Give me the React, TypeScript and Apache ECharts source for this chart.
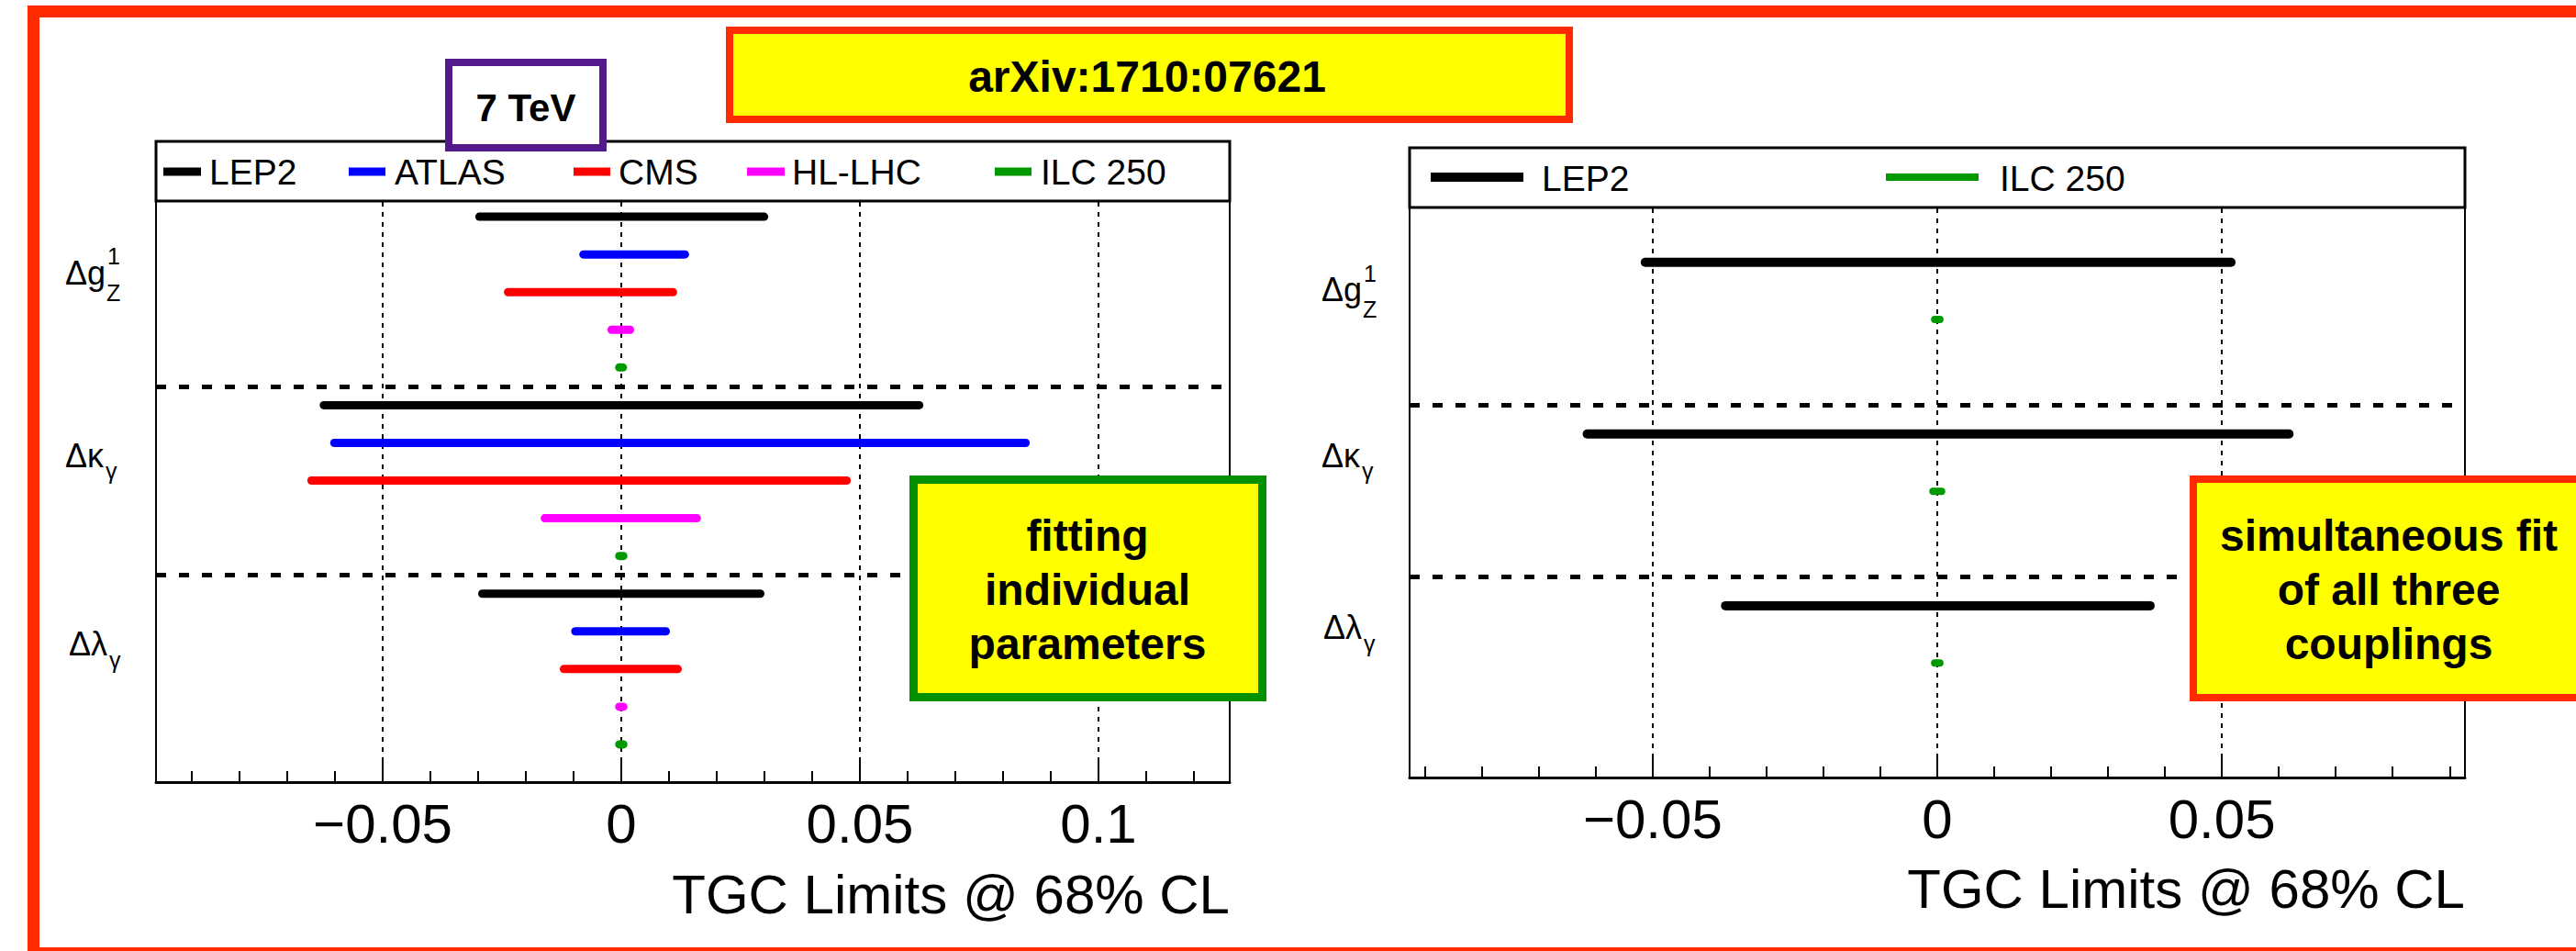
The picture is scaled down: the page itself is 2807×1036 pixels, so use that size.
import React, { useEffect, useRef } from 'react';
import * as echarts from 'echarts';

// ---------- data ----------
const COUPLINGS = ['Δg1Z', 'Δκγ', 'Δλγ'];

const LEFT_EXPERIMENTS = ['LEP2', 'ATLAS', 'CMS', 'HL-LHC', 'ILC 250'];
const LEFT_COLORS = ['#000000', '#0000ff', '#ff0000', '#ff00ff', '#009900'];
// [Δg1Z, Δκγ, Δλγ]
const LEP2_LO = [-0.0306, -0.0632, -0.03];
const LEP2_HI = [0.0308, 0.0633, 0.03];
const ATLAS_LO = [-0.0088, -0.061, -0.0105];
const ATLAS_HI = [0.0142, 0.0856, 0.0102];
const CMS_LO = [-0.0246, -0.0658, -0.0129];
const CMS_HI = [0.0117, 0.0481, 0.0127];
const HLLHC_LO = [-0.0029, -0.0169, -0.0013];
const HLLHC_HI = [0.0027, 0.0167, 0.0013];
const ILC_LO = [-0.0013, -0.0013, -0.0013];
const ILC_HI = [0.0012, 0.0013, 0.0013];

const RIGHT_EXPERIMENTS = ['LEP2', 'ILC 250'];
const RIGHT_COLORS = ['#000000', '#009900'];
const SIM_LEP2_LO = [-0.0521, -0.0623, -0.038];
const SIM_LEP2_HI = [0.0524, 0.0626, 0.0382];
const SIM_ILC_LO = [-0.0011, -0.0014, -0.0011];
const SIM_ILC_HI = [0.0011, 0.0014, 0.0011];

const LEFT_X_RANGE = [-0.0975, 0.1275];
const RIGHT_X_RANGE = [-0.0927, 0.0927];
const LEFT_Y_RANGE = [-2, 15];
const RIGHT_Y_RANGE = [-2, 9];
const LEFT_SEPARATORS = [4.5, 9.5];
const RIGHT_SEPARATORS = [2.5, 5.5];

const AXIS_TITLE = 'TGC Limits @ 68% CL';
const TAG_ARXIV = 'arXiv:1710:07621';
const TAG_ENERGY = '7 TeV';
const BOX_LEFT = ['fitting', 'individual', 'parameters'];
const BOX_RIGHT = ['simultaneous fit', 'of all three', 'couplings'];

const FONT = "'Liberation Sans', Arial, Helvetica, sans-serif";

const LEFT_LO = [LEP2_LO, ATLAS_LO, CMS_LO, HLLHC_LO, ILC_LO];
const LEFT_HI = [LEP2_HI, ATLAS_HI, CMS_HI, HLLHC_HI, ILC_HI];
const RIGHT_LO = [SIM_LEP2_LO, SIM_ILC_LO];
const RIGHT_HI = [SIM_LEP2_HI, SIM_ILC_HI];

function fmt(v: number) {
  const r = Number(v.toFixed(4));
  if (r < 0) return '\u2212' + String(Math.abs(r));
  return String(r);
}

function makeX(gridIndex: number, range: number[], splitNumber: number) {
  return {
    type: 'value',
    gridIndex,
    min: range[0],
    max: range[1],
    splitNumber,
    axisLine: { show: true, onZero: false, lineStyle: { color: '#000', width: 3 } },
    axisTick: { show: true, inside: true, length: 23, lineStyle: { color: '#000', width: 2 } },
    minorTick: { show: true, splitNumber: 5, length: 12, lineStyle: { color: '#000', width: 2 } },
    splitLine: { show: true, lineStyle: { color: '#000', width: 2, type: [5, 6] } },
    axisLabel: {
      show: true,
      showMinLabel: false,
      showMaxLabel: false,
      margin: 15,
      fontSize: 60,
      fontFamily: FONT,
      color: '#000',
      formatter: (v: number) => fmt(v),
    },
  };
}

function makeY(gridIndex: number, range: number[]) {
  return {
    type: 'value',
    gridIndex,
    min: range[0],
    max: range[1],
    inverse: true,
    axisLine: { show: false },
    axisTick: { show: false },
    axisLabel: { show: false },
    splitLine: { show: false },
  };
}

function renderFor(color: string, width: number) {
  return (_params: any, api: any) => {
    const a = api.coord([api.value(0), api.value(2)]);
    const b = api.coord([api.value(1), api.value(2)]);
    const half = width / 2;
    const long = b[0] - a[0] > width;
    return {
      type: 'line',
      shape: {
        x1: long ? a[0] + half : a[0],
        y1: a[1],
        x2: long ? b[0] - half : b[0],
        y2: b[1],
      },
      style: { stroke: color, lineWidth: width, lineCap: long ? 'round' : 'butt' },
    };
  };
}

function sepMarkLine(values: number[]) {
  return {
    silent: true,
    symbol: ['none', 'none'],
    label: { show: false },
    emphasis: { disabled: true },
    lineStyle: { color: '#000', width: 5, type: [11, 14] },
    data: values.map((v) => ({ yAxis: v })),
  };
}

function txt(text: string, x: number, y: number, size: number, opts: any = {}) {
  return {
    type: 'text',
    z: 120,
    x,
    y,
    style: {
      text,
      fontSize: size,
      fontFamily: FONT,
      fontWeight: opts.bold ? 'bold' : 'normal',
      fill: '#000',
      align: opts.align || 'left',
      verticalAlign: 'middle',
    },
  };
}

function rect(x: number, y: number, w: number, h: number, stroke: string, lw: number, fill: string, z = 100) {
  return {
    type: 'rect',
    z,
    shape: { x, y, width: w, height: h },
    style: { fill, stroke, lineWidth: lw },
  };
}

function sample(x1: number, x2: number, y: number, color: string, lw: number) {
  return {
    type: 'line',
    z: 110,
    shape: { x1, y1: y, x2, y2: y },
    style: { stroke: color, lineWidth: lw },
  };
}

function buildOption() {
  const series: any[] = [];
  LEFT_EXPERIMENTS.forEach((name, e) => {
    const data = COUPLINGS.map((_c, c) => [LEFT_LO[e][c], LEFT_HI[e][c], c * 5 + e]);
    const s: any = {
      type: 'custom',
      name,
      xAxisIndex: 0,
      yAxisIndex: 0,
      renderItem: renderFor(LEFT_COLORS[e], 9),
      encode: { x: [0, 1], y: 2 },
      data,
      z: 5,
    };
    if (e === 0) s.markLine = sepMarkLine(LEFT_SEPARATORS);
    series.push(s);
  });
  RIGHT_EXPERIMENTS.forEach((name, e) => {
    const data = COUPLINGS.map((_c, c) => [RIGHT_LO[e][c], RIGHT_HI[e][c], c * 3 + e]);
    const s: any = {
      type: 'custom',
      name: name + ' ',
      xAxisIndex: 1,
      yAxisIndex: 1,
      renderItem: renderFor(RIGHT_COLORS[e], e === 0 ? 10 : 8),
      encode: { x: [0, 1], y: 2 },
      data,
      z: 5,
    };
    if (e === 0) s.markLine = sepMarkLine(RIGHT_SEPARATORS);
    series.push(s);
  });

  const g: any[] = [];
  // outer red frame
  g.push(rect(36.5, 12.5, 2820, 1026, '#ff2a00', 13, 'none', 90));
  // legend boxes
  g.push(rect(170, 154, 1170, 65, '#000', 3, '#fff', 100));
  g.push(rect(1536, 161, 1150, 65, '#000', 3, '#fff', 100));
  const lx = [[178, 219, 228], [380, 420, 430], [625, 665, 674], [814, 855, 863], [1084, 1124, 1134]];
  LEFT_EXPERIMENTS.forEach((name, i) => {
    g.push(sample(lx[i][0], lx[i][1], 187, LEFT_COLORS[i], 9));
    g.push(txt(name, lx[i][2], 187, 39));
  });
  const rx = [[1559, 1660, 1680], [2055, 2156, 2179]];
  RIGHT_EXPERIMENTS.forEach((name, i) => {
    g.push(sample(rx[i][0], rx[i][1], 193, RIGHT_COLORS[i], i === 0 ? 10 : 8));
    g.push(txt(name, rx[i][2], 194, 39));
  });
  // coupling labels (left)
  g.push(txt('Δg', 71, 297, 36));
  g.push(txt('1', 117, 279, 25));
  g.push(txt('Z', 116, 319, 25));
  g.push(txt('Δκ', 71, 496, 36));
  g.push(txt('γ', 115, 513, 25));
  g.push(txt('Δλ', 75, 701, 36));
  g.push(txt('γ', 119, 719, 25));
  // coupling labels (right)
  g.push(txt('Δg', 1440, 315, 36));
  g.push(txt('1', 1486, 298, 25));
  g.push(txt('Z', 1485, 337, 25));
  g.push(txt('Δκ', 1440, 496, 36));
  g.push(txt('γ', 1484, 513, 25));
  g.push(txt('Δλ', 1442, 683, 36));
  g.push(txt('γ', 1486, 701, 25));
  // axis titles
  g.push(txt(AXIS_TITLE, 1340, 974, 60, { align: 'right' }));
  g.push(txt(AXIS_TITLE, 2686, 968, 60, { align: 'right' }));
  // arXiv tag
  g.push(rect(795, 33, 915, 97, '#ff2a00', 8, '#ffff00', 100));
  g.push(txt(TAG_ARXIV, 1250, 83, 48, { align: 'center', bold: true }));
  // 7 TeV tag
  g.push(rect(489, 68, 168, 93, '#541a8b', 8, '#ffffff', 115));
  g.push({ ...txt(TAG_ENERGY, 573, 117, 42, { align: 'center', bold: true }), z: 125 });
  // green box
  g.push(rect(995.5, 522.5, 380, 237, '#009000', 9, '#ffff00', 100));
  BOX_LEFT.forEach((line, i) => g.push(txt(line, 1185, 583 + i * 59, 48, { align: 'center', bold: true })));
  // red box
  g.push(rect(2390, 522, 500, 238, '#ff2a00', 8, '#ffff00', 100));
  BOX_RIGHT.forEach((line, i) => g.push(txt(line, 2603, 583 + i * 59, 48, { align: 'center', bold: true })));

  return {
    animation: false,
    backgroundColor: '#ffffff',
    grid: [
      { left: 170, top: 154, width: 1170, height: 698, show: true, borderColor: '#000', borderWidth: 2, backgroundColor: 'transparent' },
      { left: 1536, top: 161, width: 1150, height: 686, show: true, borderColor: '#000', borderWidth: 2, backgroundColor: 'transparent' },
    ],
    xAxis: [makeX(0, LEFT_X_RANGE, 5), makeX(1, RIGHT_X_RANGE, 4)],
    yAxis: [makeY(0, LEFT_Y_RANGE), makeY(1, RIGHT_Y_RANGE)],
    series,
    graphic: { elements: g },
  };
}

export default function App() {
  const ref = useRef<HTMLDivElement>(null);
  useEffect(() => {
    document.body.style.margin = '0';
    if (!ref.current) return;
    const chart = echarts.init(ref.current, undefined, { renderer: 'svg' });
    chart.setOption(buildOption() as any);
    return () => chart.dispose();
  }, []);
  return <div ref={ref} style={{ width: 2807, height: 1036 }} />;
}
